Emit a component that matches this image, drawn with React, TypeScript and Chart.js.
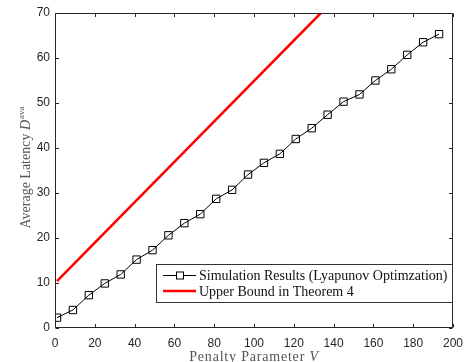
import React, { useEffect, useRef } from "react";
import { Chart, registerables } from "chart.js";

Chart.register(...registerables);

const penaltyV = [1, 9, 17, 25, 33, 41, 49, 57, 65, 73, 81, 89, 97, 105, 113, 121, 129, 137, 145, 153, 161, 169, 177, 185, 193];
const simLatency = [2.3, 4.0, 7.3, 9.9, 11.9, 15.2, 17.3, 20.6, 23.3, 25.3, 28.7, 30.7, 34.1, 36.7, 38.7, 42.0, 44.4, 47.4, 50.3, 51.9, 55.0, 57.5, 60.7, 63.5, 65.3];
const boundV = [1, 133.6];
const boundLatency = [10.4, 70];
const xTicks = [0, 20, 40, 60, 80, 100, 120, 140, 160, 180, 200];
const yTicks = [0, 10, 20, 30, 40, 50, 60, 70];
const legendLabels = ["Simulation Results (Lyapunov Optimzation)", "Upper Bound in Theorem 4"];

const SERIF = "'Liberation Serif', 'Times New Roman', serif";
const SANS = "'Liberation Sans', Arial, sans-serif";
const AXIS = "#262626";

const decor = {
  id: "decor",
  afterDraw(chart: any) {
    const { ctx, chartArea: a, scales } = chart;
    const xs = scales.x;
    const ys = scales.y;
    ctx.save();
    ctx.strokeStyle = AXIS;
    ctx.lineWidth = 1;
    const L = Math.round(a.left) + 0.5;
    const R = Math.round(a.right) - 0.5;
    const T = Math.round(a.top) + 0.5;
    const B = Math.round(a.bottom) - 0.5;
    ctx.beginPath();
    ctx.rect(L, T, R - L, B - T);
    const tl = 3.5;
    xTicks.forEach((v) => {
      const px = Math.round(xs.getPixelForValue(v)) + 0.5;
      ctx.moveTo(px, B);
      ctx.lineTo(px, B - tl);
      ctx.moveTo(px, T);
      ctx.lineTo(px, T + tl);
    });
    yTicks.forEach((v) => {
      const py = Math.round(ys.getPixelForValue(v)) + 0.5;
      ctx.moveTo(L, py);
      ctx.lineTo(L + tl, py);
      ctx.moveTo(R, py);
      ctx.lineTo(R - tl, py);
    });
    ctx.stroke();

    // Legend
    const lx = 156.5, ly = 264.5, lw = 296, lh = 38;
    ctx.fillStyle = "#ffffff";
    ctx.fillRect(lx, ly, lw, lh);
    ctx.strokeStyle = "#333333";
    ctx.strokeRect(lx, ly, lw, lh);
    const rows = [275, 291];
    ctx.strokeStyle = "#000000";
    ctx.lineWidth = 1;
    ctx.beginPath();
    ctx.moveTo(163, rows[0] + 0.5);
    ctx.lineTo(196, rows[0] + 0.5);
    ctx.stroke();
    ctx.fillStyle = "#ffffff";
    ctx.fillRect(176.5, rows[0] - 3, 7, 7);
    ctx.strokeRect(176.5, rows[0] - 3, 7, 7);
    ctx.strokeStyle = "#ff0000";
    ctx.lineWidth = 2.5;
    ctx.beginPath();
    ctx.moveTo(163, rows[1]);
    ctx.lineTo(196, rows[1]);
    ctx.stroke();
    ctx.fillStyle = "#111111";
    ctx.font = `14px ${SERIF}`;
    ctx.textBaseline = "middle";
    ctx.textAlign = "left";
    ctx.fillText(legendLabels[0], 199, rows[0] + 1);
    ctx.fillText(legendLabels[1], 199, rows[1] + 1);

    // Y title
    ctx.fillStyle = "#555555";
    const main = "Average Latency ";
    ctx.font = `14px ${SERIF}`;
    const w1 = ctx.measureText(main).width;
    ctx.font = `italic 14px ${SERIF}`;
    const w2 = ctx.measureText("D").width;
    ctx.font = `9px ${SERIF}`;
    const w3 = ctx.measureText("ava").width;
    const tot = w1 + w2 + 1 + w3;
    ctx.translate(29.5, 167.5);
    ctx.rotate(-Math.PI / 2);
    ctx.textBaseline = "alphabetic";
    let x0 = -tot / 2;
    ctx.font = `14px ${SERIF}`;
    ctx.fillText(main, x0, 0);
    x0 += w1;
    ctx.font = `italic 14px ${SERIF}`;
    ctx.fillText("D", x0, 0);
    x0 += w2 + 1;
    ctx.font = `9px ${SERIF}`;
    ctx.fillText("ava", x0, -6);
    ctx.setTransform(1, 0, 0, 1, 0, 0);

    // X title
    const m2 = "Penalty Parameter ";
    (ctx as any).letterSpacing = "0.8px";
    ctx.font = `14px ${SERIF}`;
    const v1 = ctx.measureText(m2).width;
    ctx.font = `italic 14px ${SERIF}`;
    const v2 = ctx.measureText("V").width;
    const x1 = 254 - (v1 + v2) / 2;
    ctx.font = `14px ${SERIF}`;
    ctx.fillText(m2, x1, 361);
    ctx.font = `italic 14px ${SERIF}`;
    ctx.fillText("V", x1 + v1, 361);
    (ctx as any).letterSpacing = "0px";
    ctx.restore();
  },
};

export default function App() {
  const ref = useRef<HTMLCanvasElement>(null);
  useEffect(() => {
    if (!ref.current) return;
    const chart = new Chart(ref.current, {
      type: "line",
      data: {
        datasets: [
          {
            data: penaltyV.map((v, i) => ({ x: v, y: simLatency[i] })),
            borderColor: "#000000",
            borderWidth: 1,
            pointStyle: "rect",
            pointRadius: 5.2,
            pointBorderColor: "#000000",
            pointBorderWidth: 1,
            pointBackgroundColor: "rgba(0,0,0,0)",
            tension: 0,
          },
          {
            data: boundV.map((v, i) => ({ x: v, y: boundLatency[i] })),
            borderColor: "#ff0000",
            borderWidth: 2.5,
            pointRadius: 0,
            tension: 0,
          },
        ],
      },
      options: {
        animation: false,
        responsive: false,
        devicePixelRatio: 1,
        layout: { padding: { left: 0, top: 13, right: 12, bottom: 0 } },
        plugins: { legend: { display: false }, tooltip: { enabled: false } },
        scales: {
          x: {
            type: "linear",
            min: 0,
            max: 200,
            afterFit: (s: any) => { s.height = 34; },
            afterBuildTicks: (s: any) => { s.ticks = xTicks.map((v) => ({ value: v })); },
            grid: { display: false, drawTicks: false },
            border: { display: false },
            ticks: { color: AXIS, font: { family: SANS, size: 12 }, padding: 8, maxRotation: 0 },
          },
          y: {
            type: "linear",
            min: 0,
            max: 70,
            afterFit: (s: any) => { s.width = 55; },
            afterBuildTicks: (s: any) => { s.ticks = yTicks.map((v) => ({ value: v })); },
            grid: { display: false, drawTicks: false },
            border: { display: false },
            ticks: { color: AXIS, font: { family: SANS, size: 12 }, padding: 5 },
          },
        },
      },
      plugins: [decor],
    });
    return () => chart.destroy();
  }, []);
  return (
    <div style={{ position: "absolute", left: 0, top: 0, width: 471, height: 362, background: "#fff" }}>
      <canvas ref={ref} width={471} height={362} />
    </div>
  );
}
